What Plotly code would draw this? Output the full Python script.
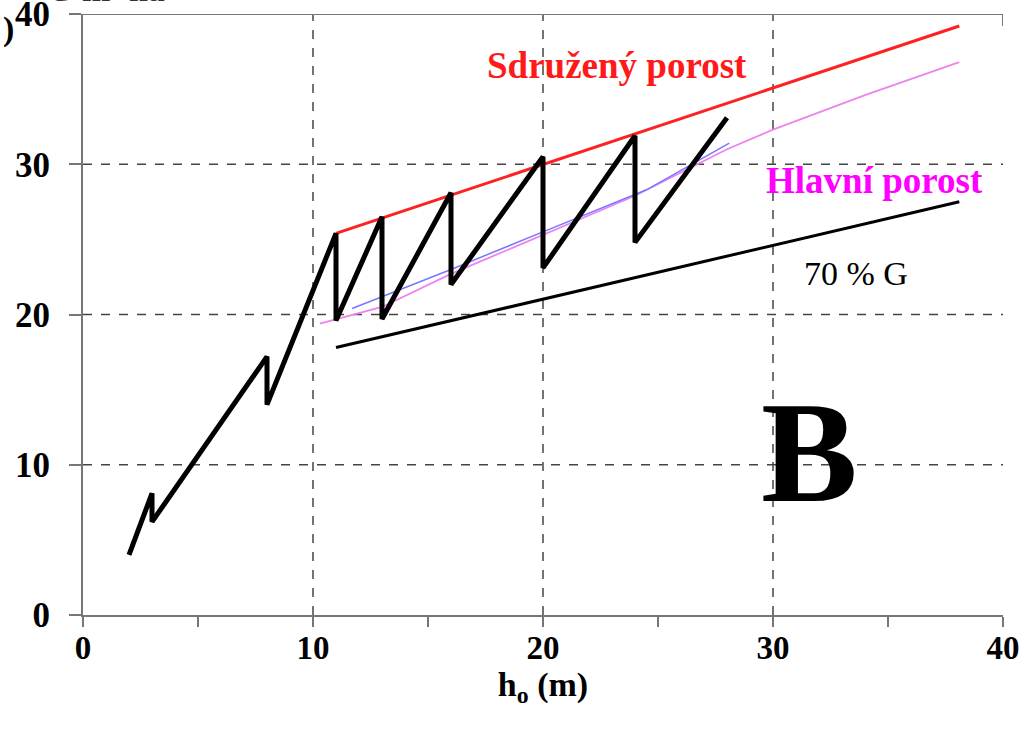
import plotly.graph_objects as go

# zigzag (stand development)
zig_x = [2, 3, 3, 8, 8, 11, 11, 13, 13, 16, 16, 20, 20, 24, 24, 28]
zig_y = [4, 8.1, 6.2, 17.2, 14.0, 25.4, 19.6, 26.5, 19.7, 28.1, 22.0, 30.5, 23.1, 31.9, 24.8, 33.1]

# Sdružený porost (red)
red_x = [11, 38.1]
red_y = [25.4, 39.2]

# Hlavní porost (violet)
pink_x = [10.3, 13, 16, 20, 24, 28, 30, 34, 38.1]
pink_y = [19.4, 20.5, 22.7, 25.3, 27.9, 31.0, 32.3, 34.6, 36.8]

# blue thin line
blue_x = [11.7, 16, 20, 24.5, 28.1]
blue_y = [20.4, 23.0, 25.5, 28.3, 31.4]

# 70 % G
g70_x = [11, 38.1]
g70_y = [17.8, 27.5]

tick_vals = [0, 10, 20, 30, 40]
tick_text = ["0", "10", "20", "30", "40"]
grid_vals = [10, 20, 30]

FONT = "Liberation Serif"

fig = go.Figure()
fig.add_trace(go.Scatter(x=g70_x, y=g70_y, mode="lines", line=dict(color="black", width=3)))
fig.add_trace(go.Scatter(x=pink_x, y=pink_y, mode="lines", line=dict(color="#ee82ee", width=1.8)))
fig.add_trace(go.Scatter(x=blue_x, y=blue_y, mode="lines", line=dict(color="#7777ff", width=1.5)))
fig.add_trace(go.Scatter(x=red_x, y=red_y, mode="lines", line=dict(color="#ff2020", width=3)))
fig.add_trace(go.Scatter(x=zig_x, y=zig_y, mode="lines", line=dict(color="black", width=5)))

shapes = []
for v in grid_vals:
    shapes.append(dict(type="line", xref="x", yref="y", x0=v, x1=v, y0=0, y1=40,
                       line=dict(color="#444", width=1.5, dash="dash"), layer="below"))
    shapes.append(dict(type="line", xref="x", yref="y", x0=0, x1=40, y0=v, y1=v,
                       line=dict(color="#444", width=1.5, dash="dash"), layer="below"))
shapes.append(dict(type="line", xref="x", yref="y", x0=0, x1=40, y0=40, y1=40,
                   line=dict(color="#777", width=2), layer="below"))
shapes.append(dict(type="line", xref="x", yref="y", x0=40, x1=40, y0=40, y1=39.2,
                   line=dict(color="#777", width=2), layer="below"))

annotations = [
    dict(x=23.2, y=36.6, text="<b>Sdružený porost</b>", showarrow=False,
         font=dict(family=FONT, size=37, color="#ff1a1a"), xanchor="center", yanchor="middle"),
    dict(x=34.4, y=28.9, text="<b>Hlavní porost</b>", showarrow=False,
         font=dict(family=FONT, size=37, color="#ff00ff"), xanchor="center", yanchor="middle"),
    dict(x=33.6, y=22.75, text="70 % G", showarrow=False,
         font=dict(family=FONT, size=34, color="black"), xanchor="center", yanchor="middle"),
    dict(x=31.6, y=10.85, text="<b>B</b>", showarrow=False,
         font=dict(family=FONT, size=145, color="black"), xanchor="center", yanchor="middle"),
    dict(xref="paper", yref="paper", x=0.025, y=1, text="<b>G m² ha</b>", showarrow=False,
         font=dict(family=FONT, size=34, color="#333"), xanchor="center", yanchor="bottom", yshift=4),
    dict(xref="paper", yref="paper", x=-0.081, y=0.975, text="<b>)</b>", showarrow=False,
         font=dict(family=FONT, size=34, color="black"), xanchor="right", yanchor="middle", xshift=8),
]

fig.update_layout(
    width=1025, height=740,
    margin=dict(l=83, r=22, t=14, b=125, autoexpand=False),
    plot_bgcolor="white", paper_bgcolor="white",
    showlegend=False,
    shapes=shapes, annotations=annotations,
    font=dict(family=FONT, color="black"),
)
fig.update_xaxes(
    range=[0, 40], tickvals=tick_vals, ticktext=tick_text,
    showgrid=False, zeroline=False, automargin=False,
    showline=True, linecolor="#777", linewidth=2,
    ticks="outside", ticklen=10, tickwidth=2, tickcolor="#777",
    minor=dict(tickvals=[5, 15, 25, 35], ticks="outside", ticklen=10, tickwidth=2, tickcolor="#777"),
    tickfont=dict(family=FONT, size=33, weight="bold", color="black"),
    ticklabelstandoff=-8, ticklabeloverflow="allow",
    title=dict(text="<b>h<sub>o</sub> (m)</b>", font=dict(family=FONT, size=34, color="black"), standoff=6),
)
fig.update_yaxes(
    range=[0, 40], tickvals=tick_vals, ticktext=tick_text,
    showgrid=False, zeroline=False, automargin=False,
    showline=True, linecolor="#777", linewidth=2,
    ticks="outside", ticklen=12, tickwidth=2, tickcolor="#777",
    tickfont=dict(family=FONT, size=35, weight="bold", color="black"),
    ticklabelstandoff=12, ticklabeloverflow="allow",
)

fig.write_html("out.html")
